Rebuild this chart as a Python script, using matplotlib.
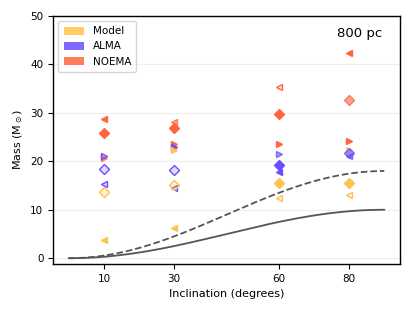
import numpy as np
import matplotlib.pyplot as plt
from matplotlib.patches import Patch
from matplotlib.colors import to_rgba

# colours per source
colors = {"Model": "#FFC34D", "ALMA": "#6B4DFF", "NOEMA": "#FF6640"}

# measured / modelled masses: (source, inclination, marker, style, mass)
source = ["NOEMA", "NOEMA", "NOEMA", "ALMA", "ALMA", "ALMA", "Model", "Model",
          "NOEMA", "NOEMA", "NOEMA", "ALMA", "ALMA", "ALMA", "Model", "Model", "Model",
          "NOEMA", "NOEMA", "NOEMA", "ALMA", "ALMA", "ALMA", "Model", "Model",
          "NOEMA", "NOEMA", "NOEMA", "Model", "ALMA", "ALMA", "Model", "Model"]
incl = [10, 10, 10, 10, 10, 10, 10, 10,
        30, 30, 30, 30, 30, 30, 30, 30, 30,
        60, 60, 60, 60, 60, 60, 60, 60,
        80, 80, 80, 80, 80, 80, 80, 80]
marker = ["<", "D", ">", ">", "D", "<", "D", "<",
          "<", "D", ">", ">", "D", "<", ">", "D", "<",
          "<", "D", ">", ">", "D", "<", "D", "<",
          "<", "D", ">", ">", "D", "<", "D", "<"]
style = ["filled", "filled", "semi", "open", "open", "open", "open", "filled",
         "semi", "filled", "filled", "filled", "open", "open", "filled", "open", "filled",
         "open", "filled", "filled", "semi", "filled", "filled", "filled", "open",
         "filled", "semi", "filled", "semi", "semi", "semi", "filled", "open"]
mass = [28.8, 25.9, 20.7, 21.1, 18.4, 15.3, 13.7, 3.7,
        28.0, 26.8, 23.6, 23.0, 18.3, 14.5, 22.3, 15.2, 6.2,
        35.3, 29.8, 23.6, 21.4, 19.2, 17.7, 15.5, 12.5,
        42.4, 32.6, 24.2, 22.3, 21.7, 21.0, 15.5, 13.1]

# sin^2 curves
curve_i = np.linspace(0, 90, 200)
curve_solid = 10 * np.sin(np.radians(curve_i)) ** 2
curve_dashed = 18 * np.sin(np.radians(curve_i)) ** 2

fig = plt.figure(figsize=(4.15, 3.11), dpi=100)
ax = fig.add_axes([0.128, 0.151, 0.836, 0.798])

ax.plot(curve_i, curve_solid, color="#555555", lw=1.3, zorder=2)
ax.plot(curve_i, curve_dashed, color="#555555", lw=1.3, ls="--", zorder=2)

for s, x, m, st, y in zip(source, incl, marker, style, mass):
    c = colors[s]
    if st == "filled":
        fc, ec = to_rgba(c, 1.0), to_rgba(c, 1.0)
    elif st == "semi":
        fc, ec = to_rgba(c, 0.6), to_rgba(c, 0.8)
    else:
        fc, ec = to_rgba(c, 0.2), to_rgba(c, 1.0)
    ax.plot([x], [y], marker=m, ms=5, mfc=fc, mec=ec, mew=1.0, ls="none", zorder=3)

ax.set_xlim(-4.5, 94.5)
ax.set_ylim(-1.2, 50)
ax.set_xticks([10, 30, 60, 80])
ax.set_yticks([0, 10, 20, 30, 40, 50])
ax.yaxis.grid(True, color="#eeeeee", lw=0.8, zorder=0)
ax.set_axisbelow(True)
ax.tick_params(labelsize=7.5, length=3.5, width=0.8)
for sp in ax.spines.values():
    sp.set_linewidth(1.0)

ax.set_xlabel("Inclination (degrees)", fontsize=8)
ax.set_ylabel(r"Mass (M$_\odot$)", fontsize=8)
ax.text(0.95, 0.93, "800 pc", transform=ax.transAxes, ha="right", va="center", fontsize=9.5)

handles = [Patch(facecolor=colors[k], alpha=0.85, label=k) for k in ["Model", "ALMA", "NOEMA"]]
ax.legend(handles=handles, loc="upper left", fontsize=7.5, frameon=True,
          handlelength=2.0, handleheight=0.8, borderpad=0.5, labelspacing=0.5)

fig.savefig("out.png", dpi=100)
